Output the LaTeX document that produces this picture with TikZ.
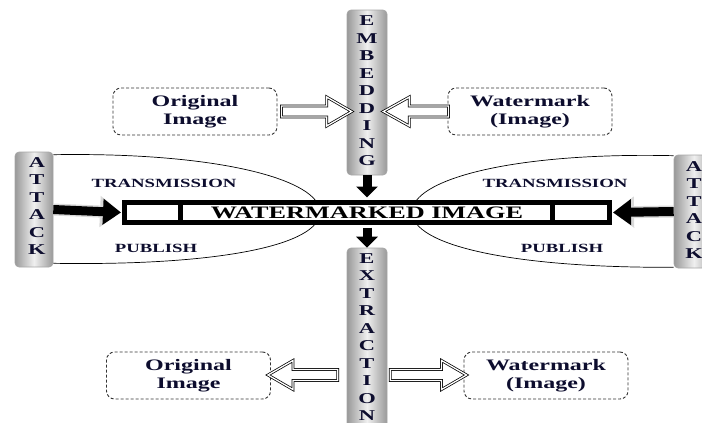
\documentclass[tikz,border=0pt]{standalone}
\usepackage{fontspec}
\setmainfont{Liberation Serif}
\newfontfamily\wide[FakeStretch=1.5]{Liberation Serif}
\usetikzlibrary{arrows.meta,calc}
\definecolor{ink}{rgb}{0.05,0.05,0.18}
\begin{document}
\begin{tikzpicture}[x=1pt,y=-1pt,
  bar/.style={rounded corners=4pt, draw=gray!70, line width=0.6pt,
    left color=gray!80, right color=gray!80, middle color=gray!12,
    inner sep=0pt},
  vtext/.style={align=center, inner sep=0pt, text=ink,
    font=\wide\bfseries\fontsize{15}{17.5}\selectfont},
  dbox/.style={draw=black!80, dash pattern=on 3pt off 2pt, line width=0.9pt,
    rounded corners=8pt, minimum width=164pt, minimum height=47pt,
    align=center, inner sep=0pt, text=ink,
    font=\wide\bfseries\fontsize{16}{18}\selectfont},
  lab/.style={inner sep=0pt, text=ink, font=\wide\bfseries\fontsize{12.5}{14}\selectfont},
  hollow/.style={draw=black, double=white, double distance=1.3pt,
    line width=0.75pt, fill=white, line join=miter},
  down/.style={line width=9pt, -{Triangle[length=11pt,width=21pt]}},
  attackarrow/.style={line width=9pt, -{Triangle[length=18pt,width=25pt]}},
  shadowarrow/.style={line width=12pt, draw=gray!30, -{Triangle[length=21pt,width=30pt]}},
]
\useasboundingbox (0,0) rectangle (702,423);

% curves
\node[bar, minimum width=38pt, minimum height=115pt] (atkL) at (34,209.5) {};
\node[bar, minimum width=40pt, minimum height=113pt] (atkR) at (694,211.5) {};
\coordinate (cL) at (320,212);
\coordinate (cR) at (412,212);
\draw[line width=0.7pt] ([yshift=-3pt]atkL.north east) .. controls (220,152) and (320,180) .. (cL)
   .. controls (320,245) and (220,266) .. ([yshift=4pt]atkL.south east);
\draw[line width=0.7pt] ([yshift=-1pt]atkR.north west) .. controls (510,152) and (412,180) .. (cR)
   .. controls (412,245) and (510,268) .. ([yshift=1pt]atkR.south west);

% bars
\node[bar, minimum width=40pt, minimum height=165pt] (emb) at (367,92.5) {};
\node[bar, minimum width=40pt, minimum height=190pt] (ext) at (367,343) {};

\node[vtext] (embt) at (367,91) {E\\M\\B\\E\\D\\D\\I\\N\\G};
\node[vtext] (extt) at (367,337) {E\\X\\T\\R\\A\\C\\T\\I\\O\\N};
\node[vtext] (atkLt) at (37,206) {A\\T\\T\\A\\C\\K};
\node[vtext] (atkRt) at (694,210) {A\\T\\T\\A\\C\\K};

% watermarked image
\node[draw=black, line width=5pt, fill=white, minimum width=485pt, minimum height=20pt,
  inner sep=0pt, text=black, font=\wide\bfseries\fontsize{17.5}{17.5}\selectfont]
  (wm) at (367,212.5) {WATERMARKED IMAGE};
\draw[line width=5pt] ([xshift=58.5pt]wm.north west) -- ([xshift=58.5pt]wm.south west);
\draw[line width=5pt] ([xshift=-59.5pt]wm.north east) -- ([xshift=-59.5pt]wm.south east);

% down arrows
\draw[down] (emb.south) -- ([yshift=2.5pt]wm.north);
\draw[down] ([yshift=-2.5pt]wm.south) -- (ext.north);

% attack arrows
\draw[shadowarrow] (atkL.east) -- ([xshift=-1pt]wm.west);
\draw[attackarrow] (atkL.east) -- ([xshift=-1pt]wm.west);
\draw[shadowarrow] (atkR.west) -- ([xshift=1pt]wm.east);
\draw[attackarrow] (atkR.west) -- ([xshift=1pt]wm.east);

% labels
\node[lab] (trL) at (164,183) {TRANSMISSION};
\node[lab] (puL) at (156,248) {PUBLISH};
\node[lab] (trR) at (555,183) {TRANSMISSION};
\node[lab] (puR) at (562,248) {PUBLISH};

% dashed boxes
\node[dbox] (o1) at (195,111.5) {Original\\Image};
\node[dbox] (w1) at (530,111.5) {Watermark\\(Image)};
\node[dbox] (o2) at (188.5,375.5) {Original\\Image};
\node[dbox] (w2) at (546,375.5) {Watermark\\(Image)};

% hollow arrows
\draw[hollow] let \p1=(o1.east), \p2=(emb.west) in
  (\x1+4pt,\y1-5.5pt) -- (\x2-20pt,\y1-5.5pt) -- (\x2-20pt,\y1-14.5pt) -- (\x2+5pt,\y1)
  -- (\x2-20pt,\y1+14.5pt) -- (\x2-20pt,\y1+5.5pt) -- (\x1+4pt,\y1+5.5pt) -- cycle;
\draw[hollow] let \p1=(w1.west), \p2=(emb.east) in
  (\x1+1pt,\y1-5.5pt) -- (\x2+22pt,\y1-5.5pt) -- (\x2+22pt,\y1-14.5pt) -- (\x2-4pt,\y1)
  -- (\x2+22pt,\y1+14.5pt) -- (\x2+22pt,\y1+5.5pt) -- (\x1+1pt,\y1+5.5pt) -- cycle;
\draw[hollow] let \p1=(o2.east), \p2=(ext.west) in
  (\x2-9pt,\y1+0.5pt-5.5pt) -- (\x1+22pt,\y1+0.5pt-5.5pt) -- (\x1+22pt,\y1+0.5pt-14.5pt) -- (\x1-3pt,\y1+0.5pt)
  -- (\x1+22pt,\y1+0.5pt+14.5pt) -- (\x1+22pt,\y1+0.5pt+5.5pt) -- (\x2-9pt,\y1+0.5pt+5.5pt) -- cycle;
\draw[hollow] let \p1=(w2.west), \p2=(ext.east) in
  (\x2+3pt,\y1+0.5pt-5.5pt) -- (\x1-22pt,\y1+0.5pt-5.5pt) -- (\x1-22pt,\y1+0.5pt-14.5pt) -- (\x1+3pt,\y1+0.5pt)
  -- (\x1-22pt,\y1+0.5pt+14.5pt) -- (\x1-22pt,\y1+0.5pt+5.5pt) -- (\x2+3pt,\y1+0.5pt+5.5pt) -- cycle;
\end{tikzpicture}
\end{document}
